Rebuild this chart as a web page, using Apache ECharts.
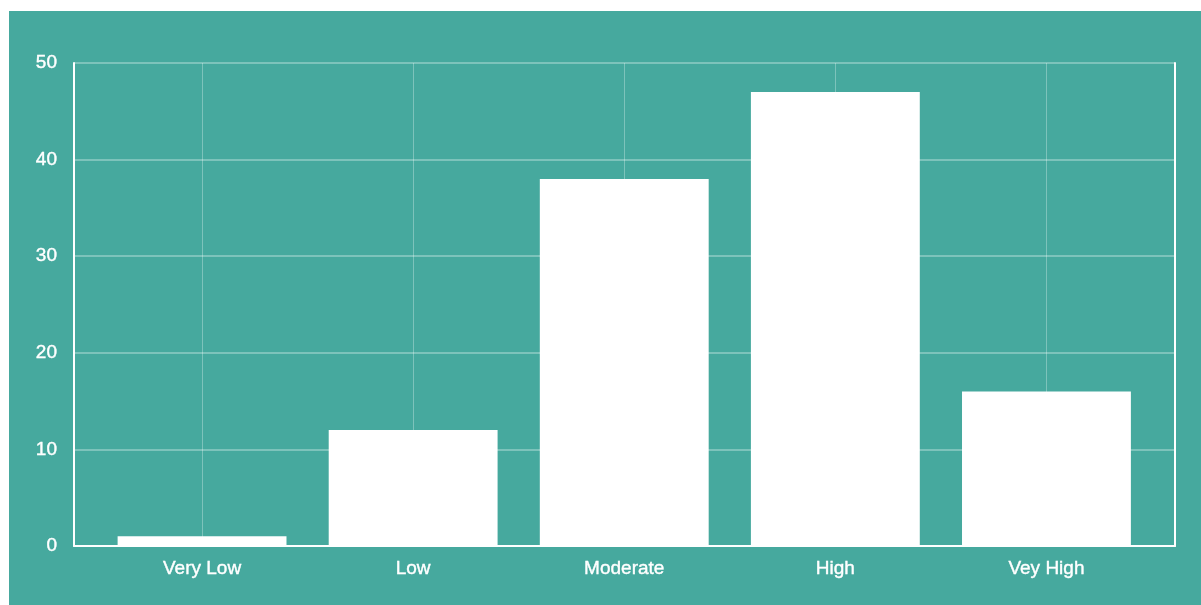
<!DOCTYPE html>
<html>
<head>
<meta charset="utf-8">
<script src="https://cdn.jsdelivr.net/npm/echarts@6/dist/echarts.min.js"></script>
<style>
  html, body { margin: 0; padding: 0; background: #ffffff; width: 1201px; height: 605px; overflow: hidden; }
  #chart { position: absolute; left: 9px; top: 11px; width: 1192px; height: 594px; }
</style>
</head>
<body>
<div id="chart"></div>
<script>
const categories = ['Very Low', 'Low', 'Moderate', 'High', 'Vey High'];
const values = [1, 12, 38, 47, 16];
const yTicks = { min: 0, max: 50, interval: 10 };

const chart = echarts.init(document.getElementById('chart'), null, { renderer: 'canvas' });
const labelFont = {
  color: '#ffffff', fontSize: 19,
  fontFamily: 'Liberation Sans, Arial, Helvetica, sans-serif',
  textBorderColor: '#ffffff', textBorderWidth: 0.4
};
const gridLine = 'rgba(255,255,255,0.3)';

chart.setOption({
  backgroundColor: '#46a99e',
  animation: false,
  grid: [
    { left: 65, right: 26, top: 52, bottom: 59, containLabel: false },
    { left: 87.5, right: 49, top: 52, bottom: 59, containLabel: false }
  ],
  xAxis: [
    { gridIndex: 0, type: 'value', min: 0, max: 1, show: true,
      axisLine: { show: true, lineStyle: { color: '#ffffff', width: 2 } },
      axisTick: { show: false }, axisLabel: { show: false }, splitLine: { show: false } },
    { gridIndex: 1, type: 'category', data: categories,
      axisLine: { show: false }, axisTick: { show: false },
      axisLabel: Object.assign({ margin: 13 }, labelFont),
      splitLine: { show: false } }
  ],
  yAxis: [
    { gridIndex: 0, type: 'value', min: yTicks.min, max: yTicks.max, interval: yTicks.interval,
      axisLine: { show: true, lineStyle: { color: '#ffffff', width: 2 } },
      axisTick: { show: false },
      axisLabel: Object.assign({ margin: 17, padding: [6, 0, 0, 0] }, labelFont),
      splitLine: { show: true, lineStyle: { color: gridLine, width: 2 } } },
    { gridIndex: 0, type: 'value', position: 'right', min: yTicks.min, max: yTicks.max, interval: yTicks.interval,
      axisLine: { show: true, lineStyle: { color: '#ffffff', width: 2 } },
      axisTick: { show: false }, axisLabel: { show: false }, splitLine: { show: false } },
    { gridIndex: 1, type: 'value', min: yTicks.min, max: yTicks.max, interval: yTicks.interval, show: false }
  ],
  series: [
    {
      type: 'bar',
      xAxisIndex: 1,
      yAxisIndex: 2,
      data: values,
      barWidth: '80%',
      z: 3,
      itemStyle: { color: '#ffffff' },
      markLine: {
        z: 1,
        silent: true,
        symbol: 'none',
        label: { show: false },
        lineStyle: { color: gridLine, width: 1, type: 'solid' },
        data: categories.map(c => ({ xAxis: c }))
      }
    }
  ]
});
</script>
</body>
</html>
